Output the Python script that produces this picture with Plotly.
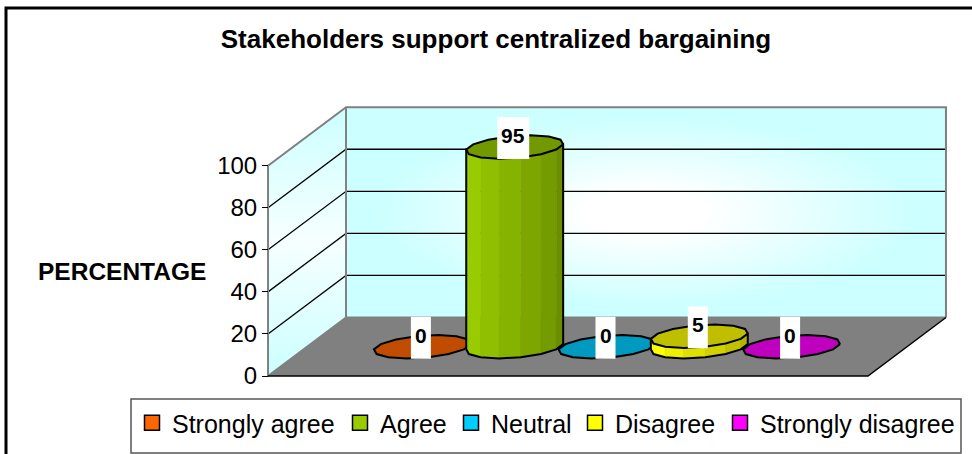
import math
import plotly.graph_objects as go

# ---- data ----
categories = ["Strongly agree", "Agree", "Neutral", "Disagree", "Strongly disagree"]
values = [0, 95, 0, 5, 0]
base_colors = ["#FF6600", "#99CC00", "#00CCFF", "#FFFF00", "#FF00FF"]
tick_values = [0, 20, 40, 60, 80, 100]
title_text = "Stakeholders support centralized bargaining"
y_label = "PERCENTAGE"

# ---- layout of the oblique "3D" chart (pixels of the 972x454 window) ----
W, H = 972, 454
PX_X = 92.3           # px per bar slot
PX_Y = 2.103          # px per percent
FRONT_CENTER_PX = 568
ZERO_PX = 376
DEPTH_X_PX, DEPTH_Y_PX = 78, 58.5
DX = DEPTH_X_PX / PX_X      # depth shift in x units
DY = DEPTH_Y_PX / PX_Y      # depth shift in y units
XMIN = 2 - 3.25
XMAX = 2 + 3.25
YTOP = 100
BAR_DIAM = 1.0
BAR_DEPTH = 0.40
N_SIDES = 14
LABEL_SHIFT = -1.5 / PX_X


def P(x, v, d):
    return x + d * DX, v + d * DY


def shade(hex_color, f):
    r, g, b = (int(hex_color[i:i + 2], 16) for i in (1, 3, 5))
    return "rgb(%d,%d,%d)" % (r * f, g * f, b * f)


fig = go.Figure()


def poly(pts, fill=None, line=None, width=1, **kw):
    xs = [p[0] for p in pts]
    ys = [p[1] for p in pts]
    args = dict(x=xs, y=ys, mode="lines", showlegend=False, hoverinfo="skip")
    if fill is not None:
        args["fill"] = "toself"
        args["fillcolor"] = fill
    if line is None:
        args["line"] = dict(width=0)
    else:
        args["line"] = dict(color=line, width=width)
    args.update(kw)
    fig.add_trace(go.Scatter(**args))


WALL_CYAN = "#CCFFFF"
# back wall
poly([P(XMIN, 0, 1), P(XMAX, 0, 1), P(XMAX, YTOP, 1), P(XMIN, YTOP, 1), P(XMIN, 0, 1)],
     fill=WALL_CYAN,
     fillgradient=dict(type="radial",
                       colorscale=[[0, "#FFFFFF"], [0.2, "#FFFFFF"], [0.9, WALL_CYAN], [1, WALL_CYAN]]))
# side wall
poly([P(XMIN, 0, 0), P(XMIN, 0, 1), P(XMIN, YTOP, 1), P(XMIN, YTOP, 0), P(XMIN, 0, 0)],
     fill=WALL_CYAN,
     fillgradient=dict(type="vertical",
                       colorscale=[[0, WALL_CYAN], [0.5, "#F6FFFF"], [1, WALL_CYAN]]))
# floor
poly([P(XMIN, 0, 0), P(XMAX, 0, 0), P(XMAX, 0, 1), P(XMIN, 0, 1), P(XMIN, 0, 0)], fill="#808080")
# gridlines
for t in tick_values:
    if t in (0, YTOP):
        continue
    poly([P(XMIN, t, 0), P(XMIN, t, 1), P(XMAX, t, 1)], line="#000000", width=1.3)
# frame of the walls
poly([P(XMIN, 0, 0), P(XMIN, YTOP, 0), P(XMIN, YTOP, 1), P(XMAX, YTOP, 1), P(XMAX, 0, 1)], line="#808080", width=2)
poly([P(XMIN, 0, 1), P(XMIN, YTOP, 1)], line="#808080", width=2)
poly([P(XMIN, 0, 0), P(XMIN, 0, 1), P(XMAX, 0, 1)], line="#808080", width=2)
poly([P(XMIN, 0, 0), P(XMAX, 0, 0), P(XMAX, 0, 1)], line="#000000", width=1.5)

# cylinders
for i, (v, c) in enumerate(zip(values, base_colors)):
    verts = []
    for k in range(N_SIDES + 1):
        a = 2 * math.pi * (k + 0.5) / N_SIDES
        verts.append((a, i + BAR_DIAM / 2 * math.cos(a), 0.5 + BAR_DEPTH / 2 * math.sin(a)))
    base = [P(x, 0, d) for _, x, d in verts]
    top = [P(x, v, d) for _, x, d in verts]
    # front silhouette: the vertices on the viewer's side between the leftmost and rightmost ones
    left = min(range(N_SIDES), key=lambda k: base[k][0])
    right = max(range(N_SIDES), key=lambda k: base[k][0])
    front = []
    k = left
    while True:
        front.append(k)
        if k == right:
            break
        k = (k + 1) % N_SIDES
    if v > 0:
        n = len(front) - 1
        for j in range(n):
            a, b = front[j], front[j + 1]
            f = 1.0 - 0.30 * max(0, (j - 1.0)) / max(1, n - 2)
            poly([base[a], base[b], top[b], top[a], base[a]], fill=shade(c, f),
                 line=shade(c, f), width=0.5)
        outline = [base[k] for k in front] + [top[front[-1]]] + [top[front[0]]] + [base[front[0]]]
        poly(outline, line="#000000", width=2)
    poly(top, fill=shade(c, 0.75), line="#000000", width=2)

# white boxes behind the value labels
LABEL_LIFT = 9 / PX_Y
BOX_H = 42 / PX_Y
for i, v in enumerate(values):
    x, y = P(i, v, 0.5)
    x += LABEL_SHIFT
    half = (10 if v < 10 else 16) / PX_X
    cy = y + LABEL_LIFT
    poly([(x - half, cy - BOX_H / 2), (x + half, cy - BOX_H / 2), (x + half, cy + BOX_H / 2),
          (x - half, cy + BOX_H / 2), (x - half, cy - BOX_H / 2)], fill="#FFFFFF")

# legend entries: one marker-only trace for each answer, each with its own legend
legend_x_px = [132, 340, 451, 575, 720]
for i, (name, c) in enumerate(zip(categories, base_colors)):
    fig.add_trace(go.Scatter(
        x=[None], y=[None], mode="markers", name=name,
        legend="legend" if i == 0 else "legend%d" % (i + 1),
        marker=dict(symbol="square", size=15, color=c, line=dict(color="#000000", width=1.5)),
    ))

layout_legends = {}
for i, lx in enumerate(legend_x_px):
    key = "legend" if i == 0 else "legend%d" % (i + 1)
    layout_legends[key] = dict(
        x=lx / W, y=1 - 423 / H, xanchor="left", yanchor="middle",
        bgcolor="rgba(0,0,0,0)", borderwidth=0,
        font=dict(family="Liberation Sans", size=25, color="#000000"),
    )

# value labels
annotations = []
for i, v in enumerate(values):
    x, y = P(i, v, 0.5)
    annotations.append(dict(
        x=x + LABEL_SHIFT, y=y + LABEL_LIFT + 2.5 / PX_Y, xref="x", yref="y", text="<b>%d</b>" % v, showarrow=False,
        xanchor="center", yanchor="middle",
        font=dict(family="Liberation Sans", size=21, color="#000000"),
    ))
annotations.append(dict(
    x=121.5 / W, y=1 - 271 / H, xref="paper", yref="paper", text="<b>%s</b>" % y_label, showarrow=False,
    xanchor="center", yanchor="middle",
    font=dict(family="Liberation Sans", size=24.5, color="#000000"),
))

shapes = [
    dict(type="rect", xref="paper", yref="paper", x0=131 / W, x1=961 / W, y0=1 - 453 / H, y1=1 - 399 / H,
         line=dict(color="#555555", width=1.5), fillcolor="#FFFFFF", layer="below"),
    dict(type="path", xref="paper", yref="paper",
         path="M %f 0 L %f %f L 1.2 %f" % (6 / W, 6 / W, 1 - 8 / H, 1 - 8 / H),
         line=dict(color="#000000", width=3)),
]

fig.update_layout(
    width=W, height=H,
    margin=dict(l=0, r=0, t=0, b=0),
    paper_bgcolor="#FFFFFF", plot_bgcolor="rgba(0,0,0,0)",
    title=dict(text="<b>%s</b>" % title_text, x=496 / W, y=1 - 39 / H, xanchor="center", yanchor="middle",
               font=dict(family="Liberation Sans", size=26, color="#000000")),
    xaxis=dict(visible=False, fixedrange=True,
               range=[2 - FRONT_CENTER_PX / PX_X, 2 + (W - FRONT_CENTER_PX) / PX_X]),
    yaxis=dict(range=[(ZERO_PX - H) / PX_Y, ZERO_PX / PX_Y], anchor="free", position=268 / W,
               tickmode="array", tickvals=tick_values, ticktext=[str(t) for t in tick_values],
               ticks="outside", ticklen=6, tickcolor="#000000", tickwidth=1,
               showgrid=False, zeroline=False, showline=False, fixedrange=True,
               tickfont=dict(family="Liberation Sans", size=24, color="#000000")),
    annotations=annotations,
    shapes=shapes,
    **layout_legends,
)
fig.write_html("out.html", config=dict(displayModeBar=False),
               post_script="document.body.style.margin='0';document.body.style.overflow='hidden';")
